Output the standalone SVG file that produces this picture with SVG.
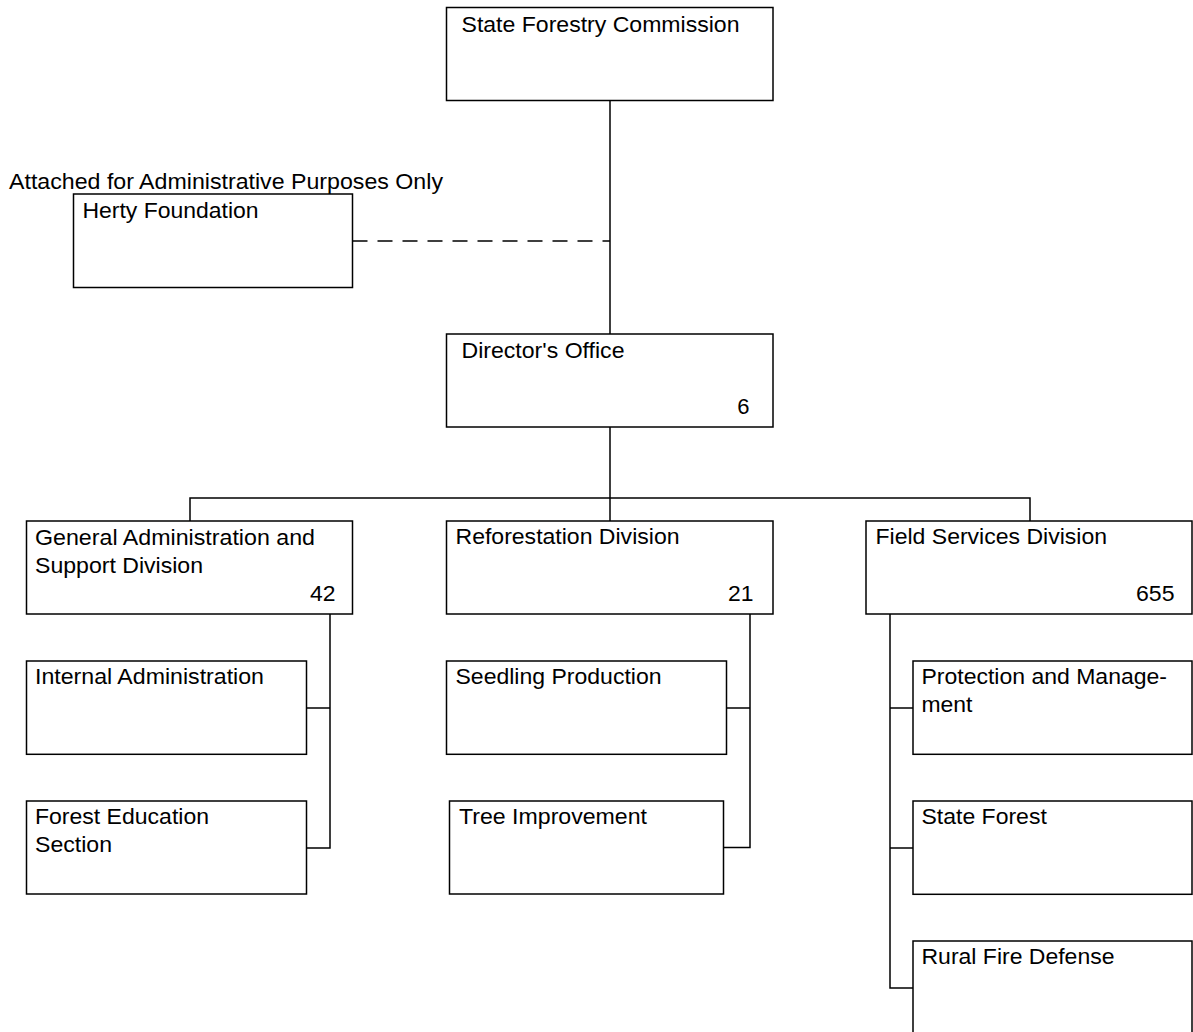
<svg xmlns="http://www.w3.org/2000/svg" width="1193" height="1032" viewBox="0 0 1193 1032">
<style>
  .box { fill: #ffffff; stroke: #000000; stroke-width: 1.5; }
  .line { fill: none; stroke: #000000; stroke-width: 1.5; }
  .dash { fill: none; stroke: #000000; stroke-width: 1.5; stroke-dasharray: 15 10; }
  text { font-family: "Liberation Sans", Arial, Helvetica, sans-serif; font-size: 22px; fill: #000000; }
  .num { text-anchor: end; }
</style>
<rect x="0" y="0" width="1193" height="1032" fill="#ffffff"/>
<g id="connectors">
  <line class="line" x1="610" y1="100.5" x2="610" y2="334"/>
  <line class="dash" x1="352.5" y1="241" x2="610" y2="241"/>
  <line class="line" x1="610" y1="427" x2="610" y2="521"/>
  <polyline class="line" points="190,521 190,498 1030,498 1030,521"/>
  <polyline class="line" points="330,614 330,848 306.5,848"/>
  <line class="line" x1="306.5" y1="708" x2="330" y2="708"/>
  <polyline class="line" points="750,614 750,847.5 723.5,847.5"/>
  <line class="line" x1="726.5" y1="708" x2="750" y2="708"/>
  <polyline class="line" points="890,614 890,988 913,988"/>
  <line class="line" x1="890" y1="708" x2="913" y2="708"/>
  <line class="line" x1="890" y1="848" x2="913" y2="848"/>
</g>
<text id="attached-label" x="9" y="189" textLength="434" lengthAdjust="spacingAndGlyphs">Attached for Administrative Purposes Only</text>
<g id="state-forestry-commission">
  <rect class="box" x="446.5" y="7.5" width="326.5" height="93"/>
  <text x="461.5" y="32" textLength="278" lengthAdjust="spacingAndGlyphs">State Forestry Commission</text>
</g>
<g id="herty-foundation">
  <rect class="box" x="73.5" y="194" width="279" height="93.5"/>
  <text x="82.5" y="218" textLength="176" lengthAdjust="spacingAndGlyphs">Herty Foundation</text>
</g>
<g id="directors-office">
  <rect class="box" x="446.5" y="334" width="326.5" height="93"/>
  <text x="461.5" y="357.5" textLength="163" lengthAdjust="spacingAndGlyphs">Director's Office</text>
  <text class="num" x="749.5" y="414">6</text>
</g>
<g id="general-administration">
  <rect class="box" x="26.5" y="521" width="326" height="93"/>
  <text x="35" y="545" textLength="280" lengthAdjust="spacingAndGlyphs">General Administration and</text>
  <text x="35" y="572.7" textLength="168" lengthAdjust="spacingAndGlyphs">Support Division</text>
  <text class="num" x="335.5" y="600.7" textLength="25.5" lengthAdjust="spacingAndGlyphs">42</text>
</g>
<g id="reforestation-division">
  <rect class="box" x="446.5" y="521" width="326.5" height="93"/>
  <text x="455.5" y="544.3" textLength="224" lengthAdjust="spacingAndGlyphs">Reforestation Division</text>
  <text class="num" x="753.5" y="601" textLength="25.5" lengthAdjust="spacingAndGlyphs">21</text>
</g>
<g id="field-services-division">
  <rect class="box" x="866" y="521" width="326" height="93"/>
  <text x="875.5" y="543.5" textLength="231.5" lengthAdjust="spacingAndGlyphs">Field Services Division</text>
  <text class="num" x="1174.5" y="600.7" textLength="38.5" lengthAdjust="spacingAndGlyphs">655</text>
</g>
<g id="internal-administration">
  <rect class="box" x="26.5" y="661" width="280" height="93.3"/>
  <text x="35" y="684.3" textLength="229" lengthAdjust="spacingAndGlyphs">Internal Administration</text>
</g>
<g id="forest-education-section">
  <rect class="box" x="26.5" y="801" width="280" height="93"/>
  <text x="35" y="824.3" textLength="174" lengthAdjust="spacingAndGlyphs">Forest Education</text>
  <text x="35" y="852" textLength="77" lengthAdjust="spacingAndGlyphs">Section</text>
</g>
<g id="seedling-production">
  <rect class="box" x="446.5" y="661" width="280" height="93.3"/>
  <text x="455.5" y="684.3" textLength="206" lengthAdjust="spacingAndGlyphs">Seedling Production</text>
</g>
<g id="tree-improvement">
  <rect class="box" x="449.5" y="801" width="274" height="93"/>
  <text x="459" y="824.3" textLength="188" lengthAdjust="spacingAndGlyphs">Tree Improvement</text>
</g>
<g id="protection-and-management">
  <rect class="box" x="913" y="661" width="279" height="93.3"/>
  <text x="921.5" y="684.3" textLength="245.5" lengthAdjust="spacingAndGlyphs">Protection and Manage-</text>
  <text x="921.5" y="711.7" textLength="51" lengthAdjust="spacingAndGlyphs">ment</text>
</g>
<g id="state-forest">
  <rect class="box" x="913" y="801" width="279" height="93.3"/>
  <text x="921.5" y="824.3" textLength="125.3" lengthAdjust="spacingAndGlyphs">State Forest</text>
</g>
<g id="rural-fire-defense">
  <rect class="box" x="913" y="941" width="279" height="100"/>
  <text x="921.5" y="964.3" textLength="193" lengthAdjust="spacingAndGlyphs">Rural Fire Defense</text>
</g>
</svg>
